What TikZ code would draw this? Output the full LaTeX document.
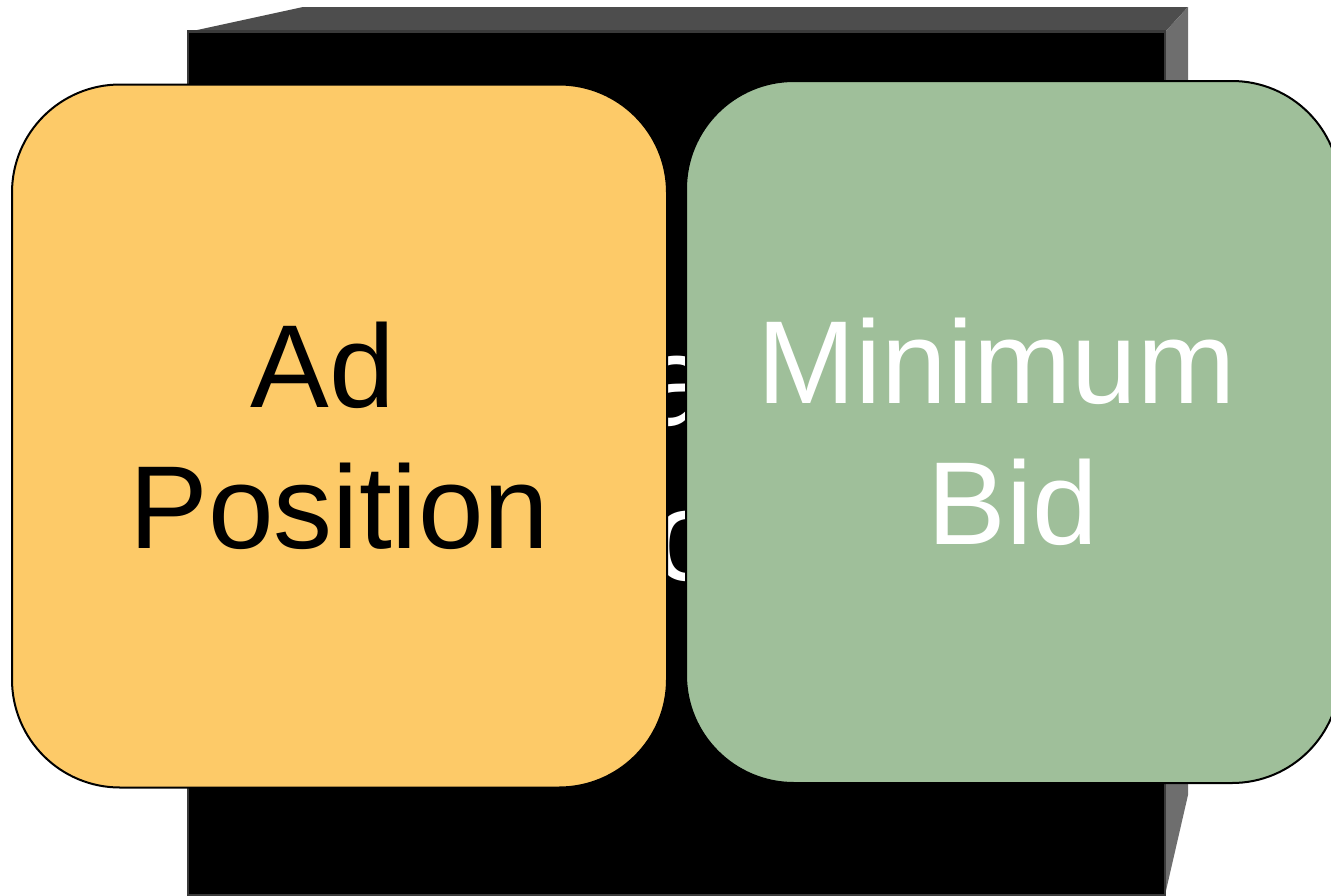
\documentclass[tikz,border=0pt]{standalone}
\usepackage{fontspec}
\setmainfont{Liberation Sans}
\definecolor{sunflower}{HTML}{FDCA68}
\definecolor{sage}{HTML}{9FBF9A}
\definecolor{lidgray}{HTML}{4D4D4D}
\definecolor{sidegray}{HTML}{6E6E6E}
\definecolor{edgegray}{HTML}{3A3A3A}
\tikzset{
  card/.style={draw=black, line width=2pt, rounded corners=108pt, inner sep=0pt,
    align=center, font=\fontsize{118}{141}\selectfont},
}
\begin{document}
\begin{tikzpicture}[x=1pt,y=-1pt]
\useasboundingbox (0,0) rectangle (1331,895);
% the box in the back: lid, side and front face
\fill[lidgray] (188,32) -- (303,7) -- (1188,7) -- (1165,32) -- cycle;
\fill[sidegray] (1165,32) -- (1188,7) -- (1188,795) -- (1165,895) -- cycle;
\node[fill=black, draw=edgegray, line width=2.5pt, inner sep=0pt,
  minimum width=977pt, minimum height=864pt] (box) at (676.5,463.5) {};
\node[text=white, align=center, font=\fontsize{129}{155}\selectfont] (hidden)
  at (670,457) {Quality\\Score};
% the two cards in front
\node[card, fill=sunflower, minimum width=655pt, minimum height=703pt] (pos)
  at (339.5,436) {Ad\kern0.278em\\Position};
\node[card, fill=sage, text=white, minimum width=654pt, minimum height=702pt] (bid)
  at (1013,432) {Minimum\kern0.278em\\Bid};
\end{tikzpicture}
\end{document}
